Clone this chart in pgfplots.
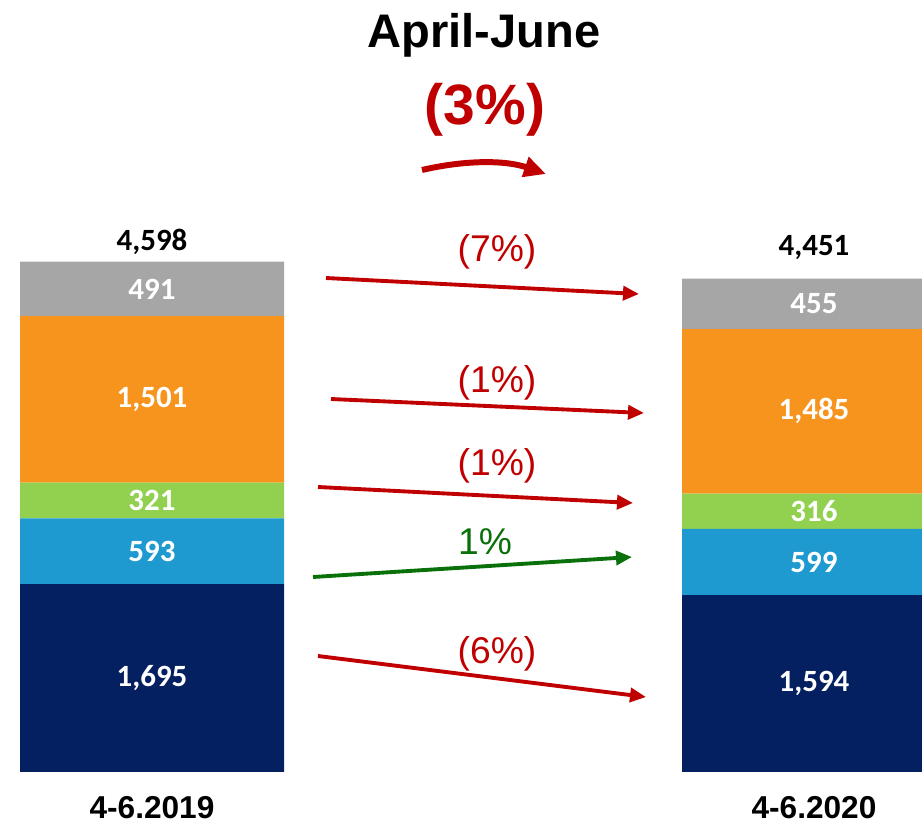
\documentclass[border=0pt]{standalone}
\usepackage{pgfplots}
\pgfplotsset{compat=1.18}
\usepackage{fontspec}
\setmainfont{Liberation Sans}
\newfontfamily\carlito{Carlito}
\usetikzlibrary{arrows.meta}
\definecolor{navy}{HTML}{052060}
\definecolor{cblue}{HTML}{1F9AD1}
\definecolor{cgreen}{HTML}{92D050}
\definecolor{corange}{HTML}{F7941D}
\definecolor{cgray}{HTML}{A6A6A6}
\definecolor{dred}{HTML}{C00000}
\definecolor{dgreen}{HTML}{0A700A}
\tikzset{vl/.style={font=\carlito\bfseries\fontsize{8.8}{10}\selectfont, text=white}}
\begin{document}
\begin{tikzpicture}
\begin{axis}[scale only axis, width=92.2mm, height=82.5mm,
  xmin=0, xmax=922, ymin=-478, ymax=6961, hide axis,
  ybar stacked, bar width=264]
\addplot[fill=navy, draw=none] coordinates {(152,1695) (814,1594)};
\addplot[fill=cblue, draw=none] coordinates {(152,593) (814,599)};
\addplot[fill=cgreen, draw=none] coordinates {(152,321) (814,316)};
\addplot[fill=corange, draw=none] coordinates {(152,1501) (814,1485)};
\addplot[fill=cgray, draw=none] coordinates {(152,491) (814,455)};
\coordinate (a1) at (axis cs:152,847.5);
\coordinate (a2) at (axis cs:152,1991.5);
\coordinate (a3) at (axis cs:152,2448.5);
\coordinate (a4) at (axis cs:152,3359.5);
\coordinate (a5) at (axis cs:152,4355.5);
\coordinate (b1) at (axis cs:814,797);
\coordinate (b2) at (axis cs:814,1893.5);
\coordinate (b3) at (axis cs:814,2351);
\coordinate (b4) at (axis cs:814,3251.5);
\coordinate (b5) at (axis cs:814,4221.5);
\coordinate (at) at (axis cs:152,4779);
\coordinate (bt) at (axis cs:814,4725);
\end{axis}
\node[vl] at (a1) {1,695};
\node[vl] at (a2) {593};
\node[vl] at (a3) {321};
\node[vl] at (a4) {1,501};
\node[vl] at (a5) {491};
\node[vl] at (b1) {1,594};
\node[vl] at (b2) {599};
\node[vl] at (b3) {316};
\node[vl] at (b4) {1,485};
\node[vl] at (b5) {455};
\node[vl, text=black] at (at) {4,598};
\node[vl, text=black] at (bt) {4,451};
\begin{scope}[shift={(current axis.north west)}, x=0.1mm, y=-0.1mm]
\path (0,0) rectangle (922,825);
\node[font=\bfseries\fontsize{13.4}{16}\selectfont] at (484,35) {April-June};
\node[font=\bfseries\fontsize{16.2}{19}\selectfont, text=dred] at (485,110) {(3\%)};
\draw[dred, line width=1.7pt, -{Triangle[length=2.2mm, width=2.0mm]}] (422,170) .. controls (465,160) and (505,160) .. (546,174);
\begin{scope}[every node/.style={font=\fontsize{10.6}{12}\selectfont, text=dred}]
\node at (497,252) {(7\%)};
\node at (497,383) {(1\%)};
\node at (497,466) {(1\%)};
\node[text=dgreen] at (485,542) {1\%};
\node at (497,654) {(6\%)};
\end{scope}
\begin{scope}[line width=1.1pt, -{Triangle[length=1.6mm, width=1.4mm]}]
\draw[dred] (326,278) -- (639,294);
\draw[dred] (331,399) -- (644,413);
\draw[dred] (318,487) -- (633,503);
\draw[dgreen] (313,577) -- (632,557);
\draw[dred] (318,656) -- (646,697);
\end{scope}
\node[font=\bfseries\fontsize{9}{11}\selectfont] at (152,808) {4-6.2019};
\node[font=\bfseries\fontsize{9}{11}\selectfont] at (814,808) {4-6.2020};
\end{scope}
\end{tikzpicture}
\end{document}
